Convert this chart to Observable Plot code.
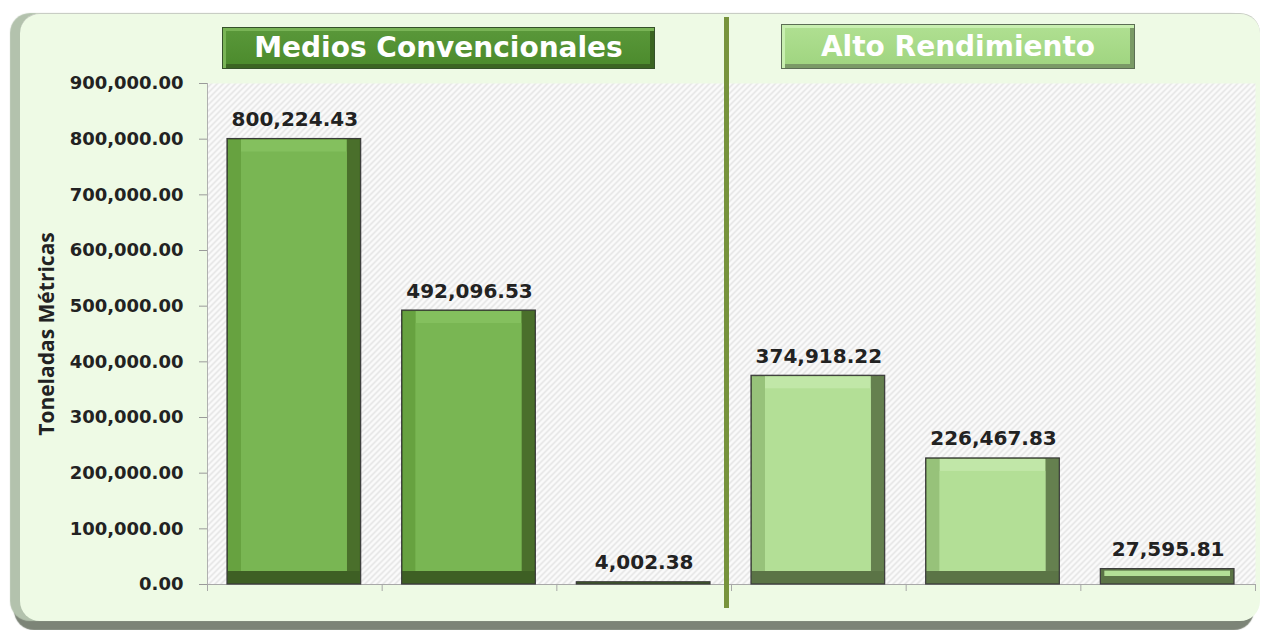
<!DOCTYPE html>
<html>
<head>
<meta charset="utf-8">
<script src="https://cdn.jsdelivr.net/npm/d3@7"></script>
<script src="https://cdn.jsdelivr.net/npm/@observablehq/plot@0.6"></script>
<style>
  html, body { margin: 0; padding: 0; background: #ffffff; }
  #wrap { position: relative; width: 1263px; height: 630px; overflow: hidden; }
  #panel {
    position: absolute; left: 20px; top: 13px; width: 1240px; height: 607px;
    background: #eefae5; border-radius: 20px; border-top: 1px solid #c8cdc4;
    box-shadow: -10px 0 1px #b3c2ad, -6px 9px 1px #7c8477;
  }
  .ttl {
    position: absolute; color: #ffffff; font-family: "DejaVu Sans", sans-serif; font-weight: bold;
    font-size: 28px; text-align: center; box-sizing: border-box; line-height: 40px;
  }
  #t1 { left: 222px; top: 27px; width: 433px; height: 42px;
    background: linear-gradient(#5a983a, #4b8a2c); border: 1px solid #35512a;
    box-shadow: inset 3px 3px 0 #79b456, inset -4px -4px 0 #3b6522; }
  #t2 { left: 781px; top: 24px; width: 354px; height: 45px; line-height: 44px;
    background: linear-gradient(#b0e092, #9fd47f); border: 1px solid #5c6e55;
    box-shadow: inset 3px 3px 0 #c8efb0, inset -4px -4px 0 #7a9a66; }
  #chart { position: absolute; left: 0; top: 0; }
</style>
</head>
<body>
<div id="wrap">
  <div id="panel"></div>
  <div id="chart"></div>
  <div class="ttl" id="t1">Medios Convencionales</div>
  <div class="ttl" id="t2">Alto Rendimiento</div>
</div>
<script>
// ---- data ----
const groups = ["Medios Convencionales", "Medios Convencionales", "Medios Convencionales",
                "Alto Rendimiento", "Alto Rendimiento", "Alto Rendimiento"];
const values = [800224.43, 492096.53, 4002.38, 374918.22, 226467.83, 27595.81];
const yTicks = [0, 100000, 200000, 300000, 400000, 500000, 600000, 700000, 800000, 900000];
const yLabel = "Toneladas Métricas";

// ---- styles ----
const palette = {
  "Medios Convencionales": {bottom: "#3e5f24", right: "#4a6f2b", left: "#67a240", top: "#84c05e", face: "#79b653"},
  "Alto Rendimiento":      {bottom: "#5b7446", right: "#65804f", left: "#97c27a", top: "#c1e7a8", face: "#b3df96"}
};
const fmt = d3.format(",.2f");
const data = values.map((v, i) => ({i, v, g: groups[i]}));
const big = data.filter(d => d.v > 50000);
const small = data.filter(d => d.v > 10000 && d.v <= 50000);

const side = 20, bev = 13;
const col = k => d => palette[d.g][k];

const chart = Plot.plot({
  width: 1263, height: 630,
  marginLeft: 207, marginRight: 8, marginTop: 83, marginBottom: 46,
  style: {background: "transparent", fontFamily: "DejaVu Sans, sans-serif", fontWeight: "bold", fontSize: "18px", color: "#222", overflow: "visible"},
  x: {domain: [0, 6], axis: null},
  y: {domain: [0, 900000], axis: null},
  marks: [
    Plot.frame({fill: "#ffffff", stroke: "none"}),
    // axes
    Plot.ruleY([0], {stroke: "#a8a8a8", strokeWidth: 1.2}),
    Plot.ruleX([0], {stroke: "#b0b0b0"}),
    Plot.axisY({ticks: yTicks, tickFormat: fmt, tickSize: 8, tickPadding: 16, stroke: "#9a9a9a", fill: "#222",
      fontSize: 18, fontWeight: "bold", label: null}),
    Plot.axisX({ticks: d3.range(7), tickFormat: () => "", tickSize: 7, stroke: "#a8a8a8", label: null}),
    Plot.text([yLabel], {frameAnchor: "left", dx: -160, rotate: -90, textAnchor: "middle",
      fontFamily: "Open Sans, sans-serif", fontWeight: "bold", fontSize: 21, fill: "#222"}),
    // bars (beveled look via layered insets)
    Plot.rectY(data, {x1: "i", x2: d => d.i + 1, y: "v", insetLeft: side, insetRight: side + 1,
      fill: col("bottom"), stroke: "#3a3a3a", strokeWidth: 1.2}),
    Plot.rectY(big, {x1: "i", x2: d => d.i + 1, y: "v", insetLeft: side + 1, insetRight: side + 2,
      insetTop: 1, insetBottom: bev, fill: col("right")}),
    Plot.rectY(big, {x1: "i", x2: d => d.i + 1, y: "v", insetLeft: side + 1, insetRight: side + 15,
      insetTop: 1, insetBottom: bev, fill: col("left")}),
    Plot.rectY(big, {x1: "i", x2: d => d.i + 1, y: "v", insetLeft: side + 14, insetRight: side + 15,
      insetTop: 1, insetBottom: bev, fill: col("top")}),
    Plot.rectY(big, {x1: "i", x2: d => d.i + 1, y: "v", insetLeft: side + 14, insetRight: side + 15,
      insetTop: bev, insetBottom: bev, fill: col("face")}),
    Plot.rectY(small, {x1: "i", x2: d => d.i + 1, y: "v", insetLeft: side + 4, insetRight: side + 5,
      insetTop: 2, insetBottom: 8, fill: col("face")}),
    // value labels
    Plot.text(data, {x: d => d.i + 0.5, y: "v", text: d => fmt(d.v), lineAnchor: "bottom", dy: -13,
      fontSize: 20, fontWeight: "bold", fill: "#222"}),
    // group divider
    Plot.ruleX([3], {dx: -5, stroke: "#77933c", strokeWidth: 5, insetTop: -66, insetBottom: -24})
  ]
});

// hatched plot background
const ns = "http://www.w3.org/2000/svg";
const defs = document.createElementNS(ns, "defs");
defs.innerHTML = '<pattern id="hatch" patternUnits="userSpaceOnUse" width="6" height="6">' +
  '<rect width="6" height="6" fill="#fbfbfb"/>' +
  '<path d="M0,6 L6,0 M-1,1 L1,-1 M5,7 L7,5" stroke="#e0e0e0" stroke-width="1.3"/></pattern>';
chart.insertBefore(defs, chart.firstChild);
const fr = chart.querySelector('[aria-label="frame"]');
if (fr) {
  fr.setAttribute("fill", "url(#hatch)");
  fr.querySelectorAll("rect").forEach(r => r.setAttribute("fill", "url(#hatch)"));
}
document.getElementById("chart").appendChild(chart);
</script>
</body>
</html>
